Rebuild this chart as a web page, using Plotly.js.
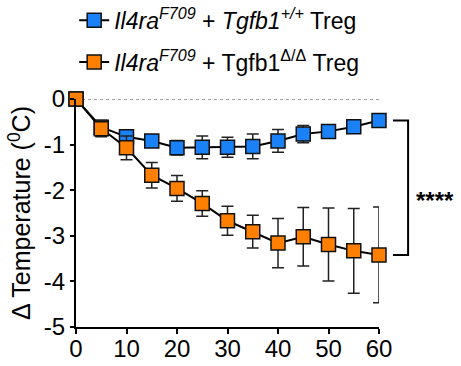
<!DOCTYPE html>
<html>
<head>
<meta charset="utf-8">
<script src="https://cdn.plot.ly/plotly-3.0.1.min.js"></script>
<style>html,body{margin:0;padding:0;background:#fff;}#chart{width:461px;height:366px;}</style>
</head>
<body>
<div id="chart"></div>
<script>
var minutes = [0, 5, 10, 15, 20, 25, 30, 35, 40, 45, 50, 55, 60];
var wtMean = [0, -0.62, -0.83, -0.92, -1.07, -1.06, -1.06, -1.04, -0.92, -0.77, -0.71, -0.61, -0.47];
var wtSem  = [0, 0.15, 0.13, 0.08, 0.16, 0.25, 0.22, 0.27, 0.25, 0.19, 0.12, 0.08, 0.05];
var koMean = [0, -0.65, -1.07, -1.67, -1.96, -2.29, -2.67, -2.91, -3.16, -3.02, -3.19, -3.33, -3.42];
var koSem  = [0, 0.18, 0.26, 0.28, 0.28, 0.28, 0.32, 0.36, 0.54, 0.64, 0.80, 0.93, 1.05];
var wtName = "<i>Il4ra<sup>F709</sup></i> + <i>Tgfb1<sup>+/+</sup></i> Treg";
var koName = "<i>Il4ra<sup>F709</sup></i> + Tgfb1<sup>Δ/Δ</sup> Treg";
var xTicks = [0, 10, 20, 30, 40, 50, 60];
var yTicks = [0, -1, -2, -3, -4, -5];
var yTickText = ["0", "-1", "-2", "-3", "-4", "-5"];
var sigLabel = "****";

function series(y, e, name, color, grp) {
  return {
    x: minutes, y: y, name: name, legendgroup: grp, type: "scatter", mode: "lines+markers",
    cliponaxis: false,
    line: {color: "#000", width: 2},
    marker: {symbol: "square", size: 14, color: color, line: {color: "#111", width: 1.5}},
    error_y: {type: "data", array: e, visible: true, color: "#222", thickness: 1.5, width: 6}
  };
}
var data = [
  series(wtMean, wtSem, wtName, "#1a82f6", "a"),
  series(koMean, koSem, koName, "#ff8000", "b")
];
var lastWt = wtMean[wtMean.length - 1];
var lastKo = koMean[koMean.length - 1];
var F = "Arial, 'Liberation Sans', sans-serif";
var layout = {
  width: 461, height: 366,
  margin: {l: 76, r: 82, t: 99, b: 39, autoexpand: false},
  paper_bgcolor: "#fff", plot_bgcolor: "#fff",
  font: {family: F, size: 24, color: "#000"},
  showlegend: true,
  legend: {x: -0.006, y: 1.44, xanchor: "left", yanchor: "top", font: {size: 23, family: F, color: "#000"},
           bgcolor: "rgba(0,0,0,0)", itemwidth: 30, traceorder: "grouped", tracegroupgap: 9},
  xaxis: {range: [0, 60], tickvals: xTicks, ticktext: xTicks.map(String), showgrid: false, zeroline: false,
          showline: true, linecolor: "#000", linewidth: 2, ticks: "outside", ticklen: 5, tickwidth: 2,
          tickcolor: "#000", tickfont: {size: 24}, fixedrange: true, ticklabelstandoff: -6},
  yaxis: {range: [-5, 0], tickvals: yTicks, ticktext: yTickText, showgrid: false, zeroline: false,
          showline: true, linecolor: "#000", linewidth: 2, ticks: "outside", ticklen: 4, tickwidth: 2,
          tickcolor: "#000", tickfont: {size: 24}, fixedrange: true,
          title: {text: "Δ Temperature (<sup>0</sup>C)", font: {size: 25}, standoff: 6}},
  shapes: [
    {type: "line", xref: "x", yref: "y", x0: 0, x1: 60, y0: 0, y1: 0, layer: "below",
     line: {color: "#444", width: 1, dash: "dot"}},
    {type: "path", xref: "paper", yref: "y", layer: "above",
     path: "M 1.046 " + lastWt + " L 1.096 " + lastWt + " L 1.096 " + lastKo + " L 1.046 " + lastKo,
     line: {color: "#000", width: 2}}
  ],
  annotations: [
    {xref: "paper", yref: "paper", x: 1.115, y: 0.555, xanchor: "left", yanchor: "middle",
     text: "<b>" + sigLabel + "</b>", showarrow: false, font: {size: 24, family: F}}
  ]
};
Plotly.newPlot("chart", data, layout, {displayModeBar: false, staticPlot: true});
</script>
</body>
</html>
